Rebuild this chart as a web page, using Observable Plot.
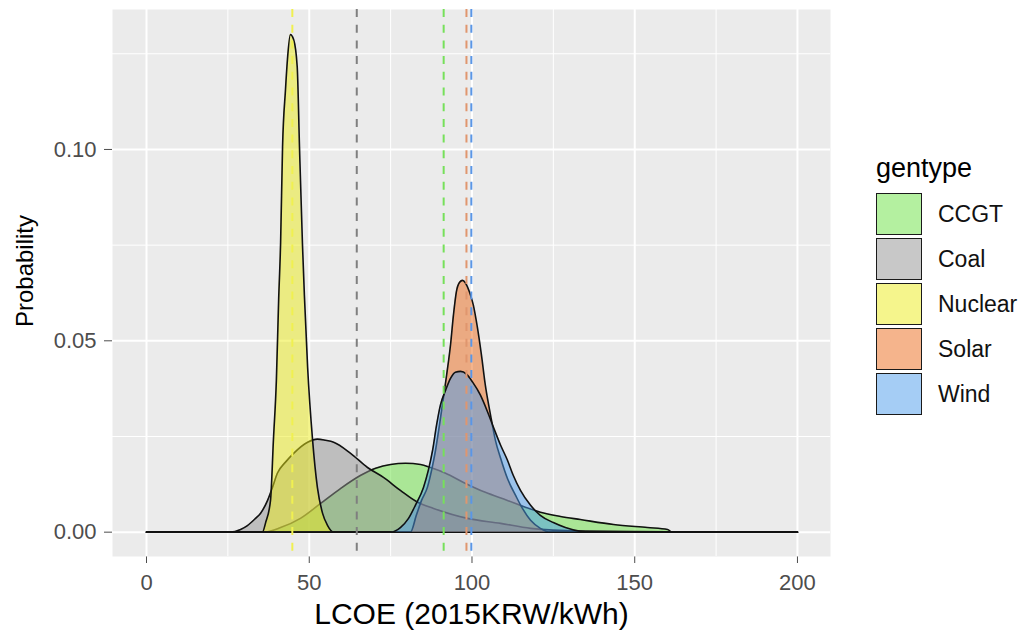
<!DOCTYPE html>
<html>
<head>
<meta charset="utf-8">
<script src="https://cdn.jsdelivr.net/npm/d3@7"></script>
<script src="https://cdn.jsdelivr.net/npm/@observablehq/plot@0.6"></script>
<style>
  body { margin: 0; background: #ffffff; font-family: "Liberation Sans", Arial, sans-serif; }
  #wrap { position: relative; width: 1031px; height: 631px; overflow: hidden; }
  #wrap svg { position: absolute; left: 0; top: 0; }
  .lg-title { position: absolute; left: 876px; top: 151px; font-size: 27px; line-height: 34px; color: #000; }
  .lg-key { position: absolute; left: 876px; width: 46px; height: 42px; box-sizing: border-box; border: 1.5px solid #1a1a1a; background: #fff; }
  .lg-key div { width: 100%; height: 100%; }
  .lg-label { position: absolute; left: 938px; height: 42px; line-height: 42px; font-size: 23px; color: #111; }
</style>
</head>
<body>
<div id="wrap"></div>
<script>
// ---- data ----
const gentypes = ["CCGT", "Coal", "Nuclear", "Solar", "Wind"];
const fillColors = ["#69e141", "#919191", "#ebeb19", "#eb6919", "#4b9beb"];
const meanColors = ["#76e05a", "#7f7f7f", "#f0f050", "#e0966e", "#5a96e6"];
const meanLCOE = [91.3, 64.6, 44.8, 98.3, 99.8];
const xTicks = [0, 50, 100, 150, 200];
const xMinor = [25, 75, 125, 175];
const yTicks = [0, 0.05, 0.10];
const yMinor = [0.025, 0.075, 0.125];

// density curves: [LCOE, probability]
const densityCCGT = [[0,0],[36.0,0],[41.2,0.0012],[47.3,0.0036],[53.5,0.0075],[59.6,0.0114],[65.7,0.0148],[70.4,0.0167],[75.0,0.0177],[79.6,0.0180],[84.2,0.0177],[87.3,0.0169],[91.9,0.0154],[97.4,0.0130],[104.1,0.0104],[110.9,0.0083],[116.4,0.0065],[121.0,0.0052],[127.2,0.0041],[133.3,0.0033],[143.5,0.0020],[153.9,0.0012],[160.1,0.0007],[161.5,0],[200,0]];
const densityCoal = [[0,0],[25.8,0],[28.9,0.0007],[31.0,0.0017],[33.5,0.0036],[35.0,0.0049],[37.2,0.0083],[38.7,0.0117],[40.2,0.0154],[42.7,0.0183],[45.2,0.0206],[49.5,0.0235],[52.5,0.0243],[55.0,0.0240],[57.5,0.0235],[62.7,0.0206],[67.9,0.0169],[72.8,0.0143],[78.0,0.0109],[83.3,0.0078],[88.2,0.0062],[98.6,0.0036],[108.8,0.0023],[118.0,0.0010],[133.3,0.0003],[160.0,0.0001],[177.3,0],[200,0]];
const densityNuclear = [[0,0],[35.6,0],[36.6,0.0025],[38.1,0.0083],[39.0,0.0242],[39.9,0.0397],[40.6,0.0607],[41.2,0.0756],[41.8,0.1007],[42.7,0.1156],[43.3,0.1235],[44.2,0.1300],[45.2,0.1287],[46.3,0.1216],[47.0,0.1007],[47.9,0.0756],[48.5,0.0620],[49.5,0.0431],[51.0,0.0243],[52.5,0.0117],[54.1,0.0049],[55.6,0.0018],[57.5,0],[200,0]];
const densitySolar = [[0,0],[81.1,0],[82.9,0.0044],[84.5,0.0083],[86.3,0.0117],[87.6,0.0162],[88.8,0.0214],[90.0,0.0279],[90.9,0.0332],[92.2,0.0410],[93.4,0.0489],[94.3,0.0567],[95.2,0.0628],[96.2,0.0653],[97.1,0.0658],[98.0,0.0651],[99.2,0.0628],[100.4,0.0594],[101.7,0.0533],[102.9,0.0463],[104.1,0.0384],[105.7,0.0306],[107.2,0.0240],[108.8,0.0193],[110.9,0.0140],[113.4,0.0096],[115.5,0.0062],[118.0,0.0031],[121.0,0.0010],[124.1,0],[200,0]];
const densityWind = [[0,0],[75.0,0],[78.0,0.0012],[80.5,0.0036],[82.6,0.0070],[85.1,0.0117],[86.6,0.0162],[87.9,0.0214],[89.1,0.0279],[90.3,0.0332],[91.9,0.0371],[93.4,0.0402],[94.9,0.0418],[96.5,0.0420],[98.3,0.0413],[100.2,0.0392],[102.6,0.0358],[104.8,0.0314],[106.6,0.0274],[108.8,0.0227],[110.9,0.0188],[112.7,0.0148],[114.9,0.0109],[118.0,0.0070],[121.0,0.0044],[125.0,0.0025],[128.7,0.0012],[133.3,0.0002],[136.4,0],[200,0]];

const densities = [densityCCGT, densityCoal, densityNuclear, densitySolar, densityWind];
const xTitle = "LCOE (2015KRW/kWh)";
const yTitle = "Probability";
const legendTitle = "gentype";

// ---- chart ----
const marks = [
  Plot.frame({fill: "#ebebeb", stroke: null}),
  Plot.ruleX(xMinor, {stroke: "#ffffff", strokeWidth: 1}),
  Plot.ruleY(yMinor, {stroke: "#ffffff", strokeWidth: 1}),
  Plot.ruleX(xTicks, {stroke: "#ffffff", strokeWidth: 2}),
  Plot.ruleY(yTicks, {stroke: "#ffffff", strokeWidth: 2})
];
densities.forEach((d, i) => {
  marks.push(Plot.areaY(d, {x: p => p[0], y: p => p[1], fill: fillColors[i], fillOpacity: 0.5, curve: "monotone-x"}));
  marks.push(Plot.lineY(d, {x: p => p[0], y: p => p[1], stroke: "#111", strokeWidth: 1.6, curve: "monotone-x"}));
});
const meanRows = gentypes.map((g, i) => ({g, m: meanLCOE[i], c: meanColors[i]}));
marks.push(Plot.ruleX(meanRows, {x: "m", stroke: d => d.c, strokeWidth: 2, strokeDasharray: "8,7.7"}));
marks.push(Plot.text([xTitle], {text: d => d, frameAnchor: "bottom", textAnchor: "middle", lineAnchor: "middle", dy: 58, fontSize: 30, fill: "#000"}));
marks.push(Plot.text([yTitle], {text: d => d, frameAnchor: "left", textAnchor: "middle", lineAnchor: "middle", rotate: -90, dx: -87, dy: -12, fontSize: 24, fill: "#000"}));

const chart = Plot.plot({
  width: 1031,
  height: 631,
  marginLeft: 112,
  marginRight: 201,
  marginTop: 9,
  marginBottom: 75,
  style: {fontFamily: "Liberation Sans, Arial, sans-serif", fontSize: "22px", color: "#4d4d4d", background: "transparent", overflow: "visible"},
  x: {domain: [-10.45, 210.15], ticks: xTicks, tickSize: 7, tickPadding: 11, label: null, tickFormat: d3.format("d")},
  y: {domain: [-0.00636, 0.13657], ticks: yTicks, tickSize: 8, tickPadding: 8, label: null, tickFormat: d3.format(".2f")},
  color: {type: "identity"},
  marks
});
const wrap = document.getElementById("wrap");
wrap.appendChild(chart);

// ---- legend ----
const t = document.createElement("div");
t.className = "lg-title";
t.textContent = legendTitle;
wrap.appendChild(t);
gentypes.forEach((g, i) => {
  const top = 193 + i * 45;
  const key = document.createElement("div");
  key.className = "lg-key";
  key.style.top = top + "px";
  const inner = document.createElement("div");
  const c = d3.color(fillColors[i]);
  c.opacity = 0.5;
  inner.style.background = c.formatRgb();
  key.appendChild(inner);
  wrap.appendChild(key);
  const lab = document.createElement("div");
  lab.className = "lg-label";
  lab.style.top = top + "px";
  lab.textContent = g;
  wrap.appendChild(lab);
});
</script>
</body>
</html>
